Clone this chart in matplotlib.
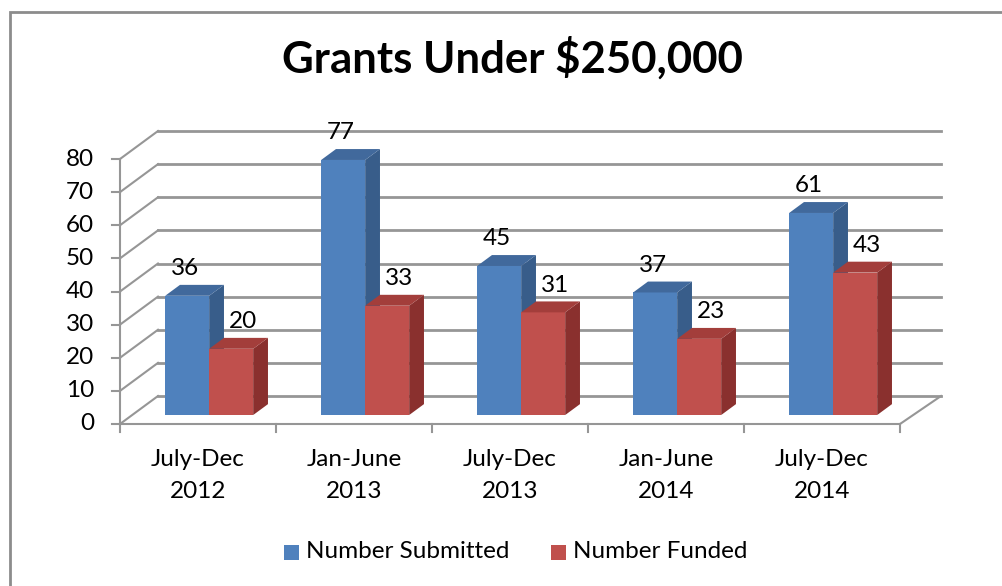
import matplotlib.pyplot as plt
from matplotlib.patches import Polygon, Rectangle

categories = ['July-Dec\n2012', 'Jan-June\n2013', 'July-Dec\n2013', 'Jan-June\n2014', 'July-Dec\n2014']
submitted = [36, 77, 45, 37, 61]
funded = [20, 33, 31, 23, 43]
yticks = [0, 10, 20, 30, 40, 50, 60, 70, 80]
series_names = ['Number Submitted', 'Number Funded']

plt.rcParams['font.family'] = ['Lato', 'DejaVu Sans']

# pixel-ish mapping: x in category units, y in value units
PX_X = 156.0      # px per category
PX_Y = 3.3125     # px per value unit
X0, Y0 = 120, 424  # pixel of (0, 0)
W, H = 1002, 586

DEPTH_X = 38 / PX_X   # full depth offset, data units
DEPTH_Y = 28 / PX_Y
FS = 17.5

fig = plt.figure(figsize=(W / 100, H / 100), dpi=100)
ax = fig.add_axes([0, 0, 1, 1])
ax.set_xlim(-X0 / PX_X, (W - X0) / PX_X)
ax.set_ylim((Y0 - H) / PX_Y, Y0 / PX_Y)
ax.axis('off')

grid_c = '#969696'
n = len(categories)
ymax = yticks[-1]

# back wall gridlines + diagonal lines from front axis
for t in yticks:
    ax.plot([DEPTH_X, n + DEPTH_X * 1.08], [t + DEPTH_Y, t + DEPTH_Y], color=grid_c, lw=2, zorder=1)
    ax.plot([0, DEPTH_X], [t, t + DEPTH_Y], color=grid_c, lw=1.5, zorder=1)
    ax.plot([-8 / PX_X, 0], [t, t], color=grid_c, lw=1.5, zorder=1)
    ax.text(-26 / PX_X, t, str(t), ha='right', va='center', fontsize=FS, color='black')

# front axis lines and floor
ax.plot([0, 0], [0, ymax], color=grid_c, lw=1.5, zorder=1)
ax.plot([0, n], [0, 0], color=grid_c, lw=1.5, zorder=1)
ax.plot([n, n + DEPTH_X * 1.08], [0, DEPTH_Y], color=grid_c, lw=1.5, zorder=1)
for i in range(n + 1):
    ax.plot([i, i], [0, -8 / PX_Y], color=grid_c, lw=1.5, zorder=1)

for i, lab in enumerate(categories):
    for k, line in enumerate(lab.split('\n')):
        ax.text(i + 0.5, -(36 + 31 * k) / PX_Y, line, ha='center', va='center',
                fontsize=FS, color='black')

# 3d bars
bw = 44 / PX_X
d0 = 0.32
dd = 0.39
colors = [('#4F81BD', '#385D8A', '#41699C'), ('#C0504D', '#8A302E', '#A33E3B')]


def bar3d(x, v, cols, z, lab_dx):
    front, side, top = cols
    bx = x + d0 * DEPTH_X
    by = d0 * DEPTH_Y
    ox = dd * DEPTH_X
    oy = dd * DEPTH_Y
    ax.add_patch(Rectangle((bx, by), bw, v, facecolor=front, edgecolor='none', zorder=z))
    ax.add_patch(Polygon([(bx + bw, by), (bx + bw + ox, by + oy), (bx + bw + ox, by + v + oy),
                          (bx + bw, by + v)], closed=True, facecolor=side, edgecolor='none', zorder=z))
    ax.add_patch(Polygon([(bx, by + v), (bx + ox, by + v + oy), (bx + bw + ox, by + v + oy),
                          (bx + bw, by + v)], closed=True, facecolor=top, edgecolor='none', zorder=z))
    ax.text(bx + bw / 2 + lab_dx / PX_X, by + v + 27 / PX_Y, str(v), ha='center', va='center',
            fontsize=FS, color='black', zorder=10)


for i in range(n):
    xc = i + 0.5 - bw
    bar3d(xc - 1 / PX_X, submitted[i], colors[0], 3, -2)
    bar3d(xc + bw - 1 / PX_X, funded[i], colors[1], 4, 12)

# title
fig.text(512 / W, 1 - 58 / H, 'Grants Under $250,000', ha='center', va='center',
         fontsize=31.5, fontweight='bold')

# legend
leg_y = 1 - 552 / H
for (lx, tx), name, c in zip([(284, 306), (551, 573)], series_names, colors):
    fig.patches.append(Rectangle((lx / W, leg_y - 7.5 / H), 15 / W, 15 / H,
                                 transform=fig.transFigure, facecolor=c[0], edgecolor='none'))
    fig.text(tx / W, leg_y, name, ha='left', va='center', fontsize=FS)

# chart border
fig.patches.append(Rectangle((10 / W, -0.01), 1.1, 1 - 12 / H + 0.01, transform=fig.transFigure,
                             facecolor='none', edgecolor='#8C8C8C', lw=2))

fig.savefig('out.png', dpi=100)
